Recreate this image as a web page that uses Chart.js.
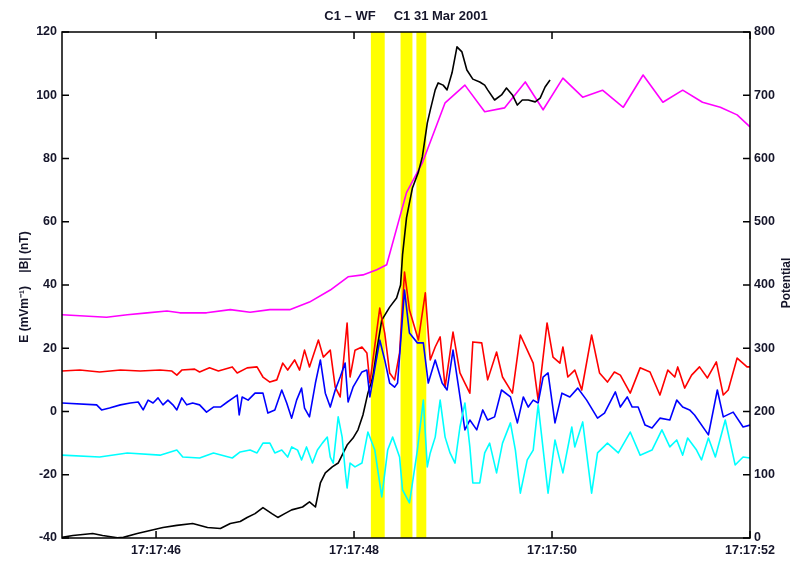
<!DOCTYPE html>
<html>
<head>
<meta charset="utf-8">
<script src="https://cdn.jsdelivr.net/npm/chart.js@4.4.1/dist/chart.umd.min.js"></script>
<style>
  body { margin: 0; background: #fff; }
</style>
</head>
<body>
<canvas id="chart" width="793" height="562"></canvas>
<script>
// time axis is seconds after 17:17:00
const xTicks = [46, 48, 50, 52];

// red E component
const redT = [45.05,45.23,45.43,45.64,45.84,46.04,46.16,46.21,46.26,46.39,46.44,46.54,46.63,46.77,46.82,46.92,47.02,47.08,47.15,47.22,47.28,47.33,47.40,47.45,47.50,47.55,47.64,47.69,47.76,47.81,47.86,47.93,47.96,48.01,48.08,48.13,48.16,48.26,48.31,48.36,48.41,48.46,48.51,48.56,48.65,48.72,48.77,48.82,48.87,48.92,49.00,49.07,49.12,49.17,49.20,49.29,49.35,49.44,49.50,49.60,49.68,49.75,49.81,49.86,49.95,50.01,50.08,50.11,50.16,50.23,50.30,50.40,50.48,50.56,50.63,50.69,50.79,50.89,50.99,51.09,51.17,51.24,51.27,51.34,51.41,51.49,51.57,51.66,51.73,51.78,51.87,51.97,52.00];
const redE = [12.8,13.1,12.5,13.1,12.8,13.1,12.8,11.5,13.1,13.4,12.5,13.8,12.8,14.1,12.2,13.8,14.1,10.9,9.3,10.0,15.3,13.1,16.3,13.1,19.4,14.1,22.6,17.2,19.4,7.7,4.6,28.0,10.9,19.4,20.4,18.5,9.0,32.7,24.8,12.2,10.0,18.5,44.1,32.1,22.6,37.5,16.3,20.4,23.6,7.7,25.1,12.2,9.0,5.8,22.0,21.7,10.0,18.8,10.9,5.8,24.2,19.4,15.3,3.6,28.0,17.2,15.3,20.4,10.9,13.1,6.8,24.2,12.2,9.3,12.5,11.5,5.8,13.8,12.5,5.2,13.1,10.9,14.1,7.4,11.5,14.1,10.6,15.7,5.2,6.8,16.9,14.1,14.1];

// blue E component
const blueT = [45.05,45.40,45.45,45.53,45.64,45.74,45.82,45.87,45.92,45.97,46.02,46.07,46.12,46.17,46.21,46.26,46.31,46.37,46.44,46.51,46.58,46.65,46.72,46.78,46.82,46.84,46.87,46.93,47.00,47.08,47.13,47.20,47.27,47.32,47.37,47.42,47.47,47.50,47.55,47.61,47.66,47.71,47.76,47.81,47.86,47.91,47.94,47.99,48.08,48.13,48.16,48.26,48.31,48.36,48.41,48.44,48.51,48.56,48.64,48.70,48.75,48.82,48.89,48.94,49.00,49.05,49.12,49.17,49.24,49.30,49.35,49.42,49.49,49.58,49.65,49.71,49.76,49.81,49.86,49.91,49.96,50.03,50.10,50.18,50.26,50.35,50.46,50.53,50.64,50.69,50.76,50.81,50.87,50.94,51.01,51.09,51.19,51.26,51.32,51.39,51.44,51.58,51.67,51.73,51.83,51.93,52.00];
const blueE = [2.7,2.1,0.5,1.1,2.1,2.7,3.0,0.5,3.6,2.7,4.3,2.1,3.6,2.1,0.5,4.3,2.1,2.7,2.1,-0.2,1.4,1.4,3.0,4.3,5.2,-1.1,4.6,3.6,5.8,5.8,-0.5,0.5,6.8,2.7,-2.1,3.6,7.4,1.1,-1.7,9.0,16.3,5.8,1.4,6.8,10.9,15.3,3.0,7.7,12.5,13.1,4.6,22.6,16.3,9.0,7.7,9.0,38.4,24.8,21.7,21.7,9.0,16.3,9.0,6.8,19.4,9.0,-5.8,-2.7,-5.8,0.5,-2.7,-1.7,6.8,4.6,-3.6,4.6,1.4,3.6,2.7,10.9,12.2,-3.6,5.8,4.6,7.4,3.6,-2.1,-0.5,6.2,1.4,4.6,1.4,1.4,-4.3,-5.2,-2.1,-2.7,3.6,1.4,0.5,-1.1,-7.4,6.8,-1.7,-0.2,-4.9,-4.3];

// cyan E component
const cyanT = [45.05,45.43,45.71,46.04,46.21,46.27,46.44,46.58,46.77,46.85,46.95,47.02,47.08,47.15,47.20,47.27,47.33,47.37,47.43,47.47,47.52,47.58,47.63,47.68,47.73,47.76,47.79,47.84,47.88,47.91,47.93,47.96,48.01,48.08,48.14,48.21,48.28,48.34,48.39,48.46,48.49,48.56,48.64,48.70,48.74,48.77,48.82,48.87,48.92,48.97,49.02,49.07,49.12,49.17,49.20,49.27,49.32,49.37,49.44,49.50,49.58,49.63,49.68,49.75,49.81,49.86,49.96,50.03,50.11,50.20,50.23,50.31,50.40,50.46,50.56,50.67,50.79,50.89,51.01,51.11,51.19,51.26,51.32,51.37,51.46,51.51,51.58,51.65,51.75,51.85,51.93,52.00];
const cyanE = [-13.8,-14.4,-13.1,-13.8,-12.2,-14.4,-14.7,-13.1,-14.7,-12.8,-12.2,-13.1,-10.0,-10.0,-13.1,-12.2,-14.4,-11.2,-12.2,-15.3,-11.2,-16.3,-12.2,-10.0,-8.1,-14.4,-16.3,-1.7,-8.1,-18.5,-24.2,-16.3,-17.5,-16.3,-6.5,-12.2,-27.0,-12.2,-8.1,-14.4,-24.8,-28.9,-12.2,3.6,-17.5,-13.1,-8.1,3.6,-8.1,-13.1,-16.3,-4.9,2.7,-11.2,-22.6,-22.6,-13.1,-10.0,-19.4,-10.0,-3.6,-12.2,-25.8,-15.3,-12.2,2.1,-25.8,-9.0,-19.4,-4.9,-11.2,-3.3,-25.8,-13.1,-10.0,-13.1,-6.5,-13.8,-12.2,-5.8,-11.2,-9.0,-13.8,-8.4,-12.2,-15.3,-8.4,-14.4,-2.7,-16.9,-14.4,-14.7];

// black |B|
const blackT = [45.05,45.16,45.36,45.46,45.61,45.67,45.81,45.94,46.07,46.21,46.37,46.52,46.65,46.75,46.85,46.92,47.00,47.08,47.17,47.23,47.30,47.37,47.48,47.55,47.61,47.66,47.71,47.78,47.84,47.93,47.99,48.04,48.09,48.14,48.19,48.23,48.28,48.36,48.43,48.47,48.49,48.53,48.59,48.65,48.69,48.74,48.77,48.82,48.85,48.90,48.94,48.99,49.04,49.09,49.14,49.20,49.27,49.32,49.35,49.42,49.49,49.54,49.60,49.65,49.70,49.76,49.83,49.88,49.93,49.98];
const blackB = [-39.8,-39.2,-38.6,-39.2,-39.9,-39.8,-38.6,-37.6,-36.7,-36.0,-35.4,-36.7,-37.0,-35.4,-34.8,-33.5,-32.3,-30.4,-32.3,-33.5,-32.3,-31.1,-30.2,-28.6,-30.2,-22.6,-19.4,-17.5,-16.3,-10.6,-8.4,-5.8,-1.1,5.8,10.9,19.4,28.9,33.0,35.9,40.0,49.5,61.2,70.7,75.7,80.5,91.2,95.3,101.7,103.9,103.2,101.7,107.1,115.3,113.7,108.0,105.1,104.2,103.2,101.7,98.5,100.1,102.3,100.1,96.9,98.5,98.5,97.9,99.1,102.6,104.8];

// magenta potential (right axis)
const magT = [45.05,45.50,45.71,45.91,46.11,46.24,46.51,46.75,46.95,47.15,47.35,47.55,47.76,47.94,48.09,48.23,48.33,48.53,48.69,48.92,49.12,49.32,49.52,49.73,49.91,50.11,50.31,50.51,50.72,50.92,51.12,51.32,51.52,51.70,51.87,52.00];
const magV = [353,349,353,356,359,356,356,361,357,361,361,373,392,413,416,424,432,546,593,688,716,674,680,721,677,727,697,708,681,732,689,708,689,681,669,650];

// yellow highlighted intervals
const bandStart = [48.17, 48.47, 48.63];
const bandEnd = [48.31, 48.59, 48.73];

const FONT = 'Liberation Sans, Arial, sans-serif';
const TXT = '#15152a';

function series(t, v, color, axis) {
  return {
    data: t.map((x, i) => ({ x: x, y: v[i] })),
    borderColor: color,
    yAxisID: axis,
    borderWidth: 1.6,
    borderJoinStyle: 'round',
    pointRadius: 0,
    tension: 0,
    fill: false
  };
}

// yellow bands behind, box + inward ticks + titles on top
const decor = {
  id: 'decor',
  beforeDatasetsDraw(chart) {
    const { ctx, chartArea: a, scales } = chart;
    ctx.save();
    ctx.fillStyle = '#ffff00';
    for (let i = 0; i < bandStart.length; i++) {
      const x1 = scales.x.getPixelForValue(bandStart[i]);
      const x2 = scales.x.getPixelForValue(bandEnd[i]);
      ctx.fillRect(x1, a.top, x2 - x1, a.bottom - a.top);
    }
    ctx.restore();
  },
  afterDraw(chart) {
    const { ctx, chartArea: a, scales } = chart;
    const tl = 7;
    ctx.save();
    ctx.strokeStyle = '#000';
    ctx.lineWidth = 1.5;
    ctx.strokeRect(a.left, a.top, a.right - a.left, a.bottom - a.top);
    ctx.beginPath();
    scales.x.ticks.forEach(t => {
      const x = scales.x.getPixelForValue(t.value);
      ctx.moveTo(x, a.bottom); ctx.lineTo(x, a.bottom - tl);
      ctx.moveTo(x, a.top); ctx.lineTo(x, a.top + tl);
    });
    scales.y.ticks.forEach(t => {
      const y = scales.y.getPixelForValue(t.value);
      ctx.moveTo(a.left, y); ctx.lineTo(a.left + tl, y);
    });
    scales.y2.ticks.forEach(t => {
      const y = scales.y2.getPixelForValue(t.value);
      ctx.moveTo(a.right, y); ctx.lineTo(a.right - tl, y);
    });
    ctx.stroke();

    ctx.fillStyle = TXT;
    ctx.font = 'bold 13px ' + FONT;
    ctx.textAlign = 'center';
    ctx.textBaseline = 'middle';
    ctx.fillText('C1 \u2013 WF     C1 31 Mar 2001', 406, 16);

    ctx.font = 'bold 12px ' + FONT;
    ctx.translate(25, 287);
    ctx.rotate(-Math.PI / 2);
    ctx.fillText('E (mVm\u207B\u00B9)    |B| (nT)', 0, 0);
    ctx.restore();

    ctx.save();
    ctx.fillStyle = TXT;
    ctx.font = 'bold 12px ' + FONT;
    ctx.textAlign = 'center';
    ctx.textBaseline = 'middle';
    ctx.translate(787, 283);
    ctx.rotate(-Math.PI / 2);
    ctx.fillText('Potential', 0, 0);
    ctx.restore();
  }
};

const tickFont = { family: FONT, size: 12.5, weight: 'bold' };

new Chart(document.getElementById('chart'), {
  type: 'line',
  data: {
    datasets: [
      series(cyanT, cyanE, '#00ffff', 'y'),
      series(blueT, blueE, '#0000ff', 'y'),
      series(redT, redE, '#ff0000', 'y'),
      series(blackT, blackB, '#000000', 'y'),
      series(magT, magV, '#ff00ff', 'y2')
    ]
  },
  options: {
    responsive: false,
    animation: false,
    layout: { padding: { top: 32, left: 0, right: 0, bottom: 0 } },
    plugins: { legend: { display: false }, tooltip: { enabled: false }, title: { display: false } },
    scales: {
      x: {
        type: 'linear',
        min: 45.05,
        max: 52,
        grid: { display: false, drawTicks: false },
        border: { display: false },
        afterBuildTicks: s => { s.ticks = xTicks.map(v => ({ value: v })); },
        afterFit: s => { s.height = 24; },
        ticks: {
          callback: v => '17:17:' + v,
          maxRotation: 0,
          autoSkip: false,
          padding: 5,
          color: TXT,
          font: tickFont
        }
      },
      y: {
        position: 'left',
        min: -40,
        max: 120,
        grid: { display: false, drawTicks: false },
        border: { display: false },
        afterFit: s => { s.width = 62; },
        ticks: { stepSize: 20, padding: 5, color: TXT, font: tickFont }
      },
      y2: {
        position: 'right',
        min: 0,
        max: 800,
        grid: { display: false, drawTicks: false },
        border: { display: false },
        afterFit: s => { s.width = 43; },
        ticks: { stepSize: 100, padding: 4, color: TXT, font: tickFont }
      }
    }
  },
  plugins: [decor]
});
</script>
</body>
</html>
